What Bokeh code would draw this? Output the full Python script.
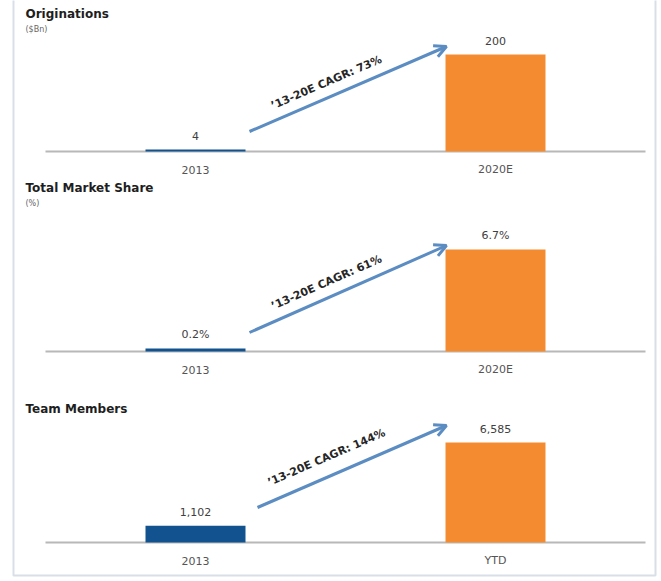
from bokeh.plotting import figure
from bokeh.models import Range1d, Arrow, OpenHead
from bokeh.core.properties import value
from bokeh.embed import file_html
from bokeh.resources import INLINE
import math

# ---------------- data ----------------
categories_1 = ["2013", "2020E"]
originations = [4, 200]
originations_labels = ["4", "200"]

categories_2 = ["2013", "2020E"]
market_share = [0.2, 6.7]
market_share_labels = ["0.2%", "6.7%"]

categories_3 = ["2013", "YTD"]
team_members = [1102, 6585]
team_members_labels = ["1,102", "6,585"]

titles = ["Originations", "Total Market Share", "Team Members"]
subtitles = ["($Bn)", "(%)", ""]
cagr_texts = ["\u201913-20E CAGR: 73%", "\u201913-20E CAGR: 61%", "\u201913-20E CAGR: 144%"]

# ---------------- layout ----------------
W, H = 661, 581
X0_PX, UNIT_PX = 195, 300          # category 0 at 195 px, 300 px per category


def px2x(px):
    return (px - X0_PX) / UNIT_PX


p = figure(width=W, height=H, output_backend="svg", toolbar_location=None,
           x_range=Range1d(px2x(0), px2x(W)), y_range=Range1d(H, 0),
           min_border=0, x_axis_type=None, y_axis_type=None)
p.outline_line_color = None
p.xgrid.visible = False
p.ygrid.visible = False
p.background_fill_color = "white"
p.border_fill_color = "white"

# outer light frame
p.quad(left=[px2x(13)], right=[px2x(655)], top=[-5], bottom=[575],
       fill_color=None, line_color="#D8DFE7", line_width=2)

ORANGE = "#F58B31"
BLUE = "#11528F"
TEXT = "#404040"
FONT = value("DejaVu Sans")

panels = [
    # (cats, values, labels, baseline_px, px per unit, title_y, sub_y, arrow, text center)
    (categories_1, originations, originations_labels, 151, 97 / 200, 13, 29,
     (249, 131, 446, 46), (326, 82)),
    (categories_2, market_share, market_share_labels, 351, 102 / 6.7, 187, 203,
     (249, 332, 446, 245), (326, 282)),
    (categories_3, team_members, team_members_labels, 542, 100 / 6585, 408, None,
     (257, 507, 446, 425), (326, 457)),
]

for i, (cats, vals, labels, base_px, k, ty, sy, arr, tc) in enumerate(panels):
    rname = f"panel{i}"
    p.extra_y_ranges[rname] = Range1d((base_px - H) / k, base_px / k)
    xs = list(range(len(cats)))

    # baseline
    p.segment(x0=[-0.5], x1=[1.5], y0=[0], y1=[0], y_range_name=rname,
              line_color="#B8B8B8", line_width=2)
    # bars
    p.vbar(x=xs, top=vals, bottom=0, width=1 / 3, y_range_name=rname,
           fill_color=[BLUE, ORANGE], line_color=None)
    # value labels
    p.text(x=xs, y=vals, text=labels, y_range_name=rname, y_offset=-14,
           text_align="center", text_baseline="middle", text_font=FONT,
           text_font_size="11px", text_color=TEXT)
    # category labels
    p.text(x=xs, y=[0, 0], text=cats, y_range_name=rname, y_offset=18,
           text_align="center", text_baseline="middle", text_font=FONT,
           text_font_size="11px", text_color="#555555")
    # titles
    p.text(x=[px2x(25)], y=[ty], text=[titles[i]], text_align="left",
           text_baseline="middle", text_font=FONT, text_font_style="bold",
           text_font_size="12px", text_color="#1E1E1E")
    if sy is not None and subtitles[i]:
        p.text(x=[px2x(25)], y=[sy], text=[subtitles[i]], text_align="left",
               text_baseline="middle", text_font=FONT, text_font_size="8px",
               text_color="#666666")
    # CAGR arrow
    x0, y0, x1, y1 = arr
    p.add_layout(Arrow(x_start=px2x(x0), y_start=y0, x_end=px2x(x1), y_end=y1,
                       line_color="#5B8CC2", line_width=3,
                       end=OpenHead(size=12, line_color="#5B8CC2", line_width=3)))
    ang = math.atan2(y0 - y1, x1 - x0)
    p.text(x=[px2x(tc[0])], y=[tc[1]], text=[cagr_texts[i]], angle=ang,
           text_align="center", text_baseline="middle", text_font=FONT,
           text_font_style="bold", text_font_size="11px", text_color="#262626")

open("out.html", "w").write(file_html(p, INLINE))
